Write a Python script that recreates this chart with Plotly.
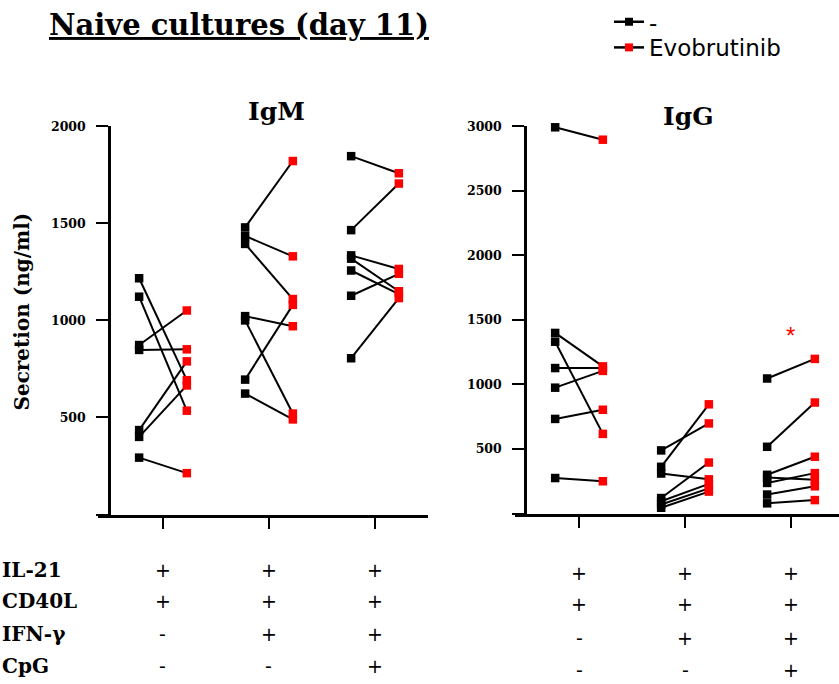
import plotly.graph_objects as go

# ---------------- data ----------------
groups = [0, 1, 2]  # culture conditions (columns)

igm_ctrl = [
    [1217, 1122, 873, 848, 435, 400, 293],
    [1479, 1435, 1394, 1022, 1000, 695, 623],
    [1846, 1465, 1335, 1318, 1257, 1127, 805],
]
igm_evo = [
    [692, 535, 1051, 851, 789, 665, 213],
    [1821, 1330, 1110, 970, 520, 1080, 490],
    [1758, 1705, 1265, 1150, 1135, 1240, 1115],
]
igg_ctrl = [
    [2992, 1399, 1331, 1127, 975, 733, 275],
    [489, 362, 310, 120, 95, 70, 45],
    [1046, 517, 300, 280, 237, 147, 79],
]
igg_evo = [
    [2896, 1140, 617, 1127, 1105, 804, 250],
    [698, 846, 265, 395, 230, 195, 170],
    [1198, 860, 440, 262, 313, 211, 104],
]

igm_ticks = [0, 500, 1000, 1500, 2000]
igg_ticks = [0, 500, 1000, 1500, 2000, 2500, 3000]

row_labels = ["IL-21", "CD40L", "IFN-γ", "CpG"]
row_signs = [
    ["+", "+", "+"],
    ["+", "+", "+"],
    ["-", "+", "+"],
    ["-", "-", "+"],
]
sig_group = 2
sig_value = 1380

series_names = ["-", "Evobrutinib"]
colors = ["#000000", "#ff0000"]

# ---------------- layout helpers ----------------
W, H = 839, 684
OFF = 0.225
SERIF = "DejaVu Serif"


def px(x):
    return x / W


def py(y):
    return 1 - y / H


fig = go.Figure()


def add_panel(ctrl, evo, xa, ya):
    lx, ly = [], []
    for g, (cs, es) in enumerate(zip(ctrl, evo)):
        for c, e in zip(cs, es):
            lx += [g - OFF, g + OFF, None]
            ly += [c, e, None]
    fig.add_trace(go.Scatter(x=lx, y=ly, mode="lines", xaxis=xa, yaxis=ya,
                             line=dict(color="black", width=2),
                             showlegend=False, hoverinfo="skip", cliponaxis=False))
    for k, (vals, off) in enumerate([(ctrl, -OFF), (evo, OFF)]):
        xs, ys = [], []
        for g, vs in enumerate(vals):
            xs += [g + off] * len(vs)
            ys += vs
        fig.add_trace(go.Scatter(x=xs, y=ys, mode="markers", xaxis=xa, yaxis=ya,
                                 marker=dict(symbol="square", size=8.5, color=colors[k]),
                                 showlegend=False, cliponaxis=False))


add_panel(igm_ctrl, igm_evo, "x", "y")
add_panel(igg_ctrl, igg_evo, "x2", "y2")

for i, (name, col) in enumerate(zip(series_names, colors)):
    fig.add_trace(go.Scatter(x=[None], y=[None], mode="lines+markers", name=name,
                             legend="legend" if i == 0 else "legend2",
                             line=dict(color="black", width=2.5),
                             marker=dict(symbol="square", size=8, color=col)))

axis_common = dict(showline=True, linecolor="black", linewidth=2.5, showgrid=False,
                   zeroline=False, ticks="outside", ticklen=12, tickwidth=2,
                   tickcolor="black")
tickfont = dict(family=SERIF, size=12.5, color="black", weight="bold")
legfont = dict(family="DejaVu Sans", size=23, color="black")

fig.update_layout(
    width=W, height=H, margin=dict(l=0, r=0, t=0, b=0),
    paper_bgcolor="white", plot_bgcolor="white",
    xaxis=dict(domain=[px(98), px(428)], range=[-0.613, 2.5], anchor="y",
               tickvals=groups, showticklabels=False, **axis_common),
    yaxis=dict(domain=[py(512), py(118)], range=[0, 2000],
               anchor="free", position=px(109), tickvals=igm_ticks,
               ticktext=[""] + [str(t) for t in igm_ticks[1:]],
               tickfont=tickfont, ticklabelstandoff=8, **axis_common),
    xaxis2=dict(domain=[px(515), 1.0], range=[-0.604, 2.453], anchor="y2",
                tickvals=groups, showticklabels=False, **axis_common),
    yaxis2=dict(domain=[py(511), py(118)], range=[0, 3000],
                anchor="free", position=px(525), tickvals=igg_ticks,
                ticktext=[""] + [str(t) for t in igg_ticks[1:]],
                tickfont=tickfont, ticklabelstandoff=8, **axis_common),
    legend=dict(x=px(609), y=py(12), xanchor="left", yanchor="middle",
                font=legfont, bgcolor="rgba(0,0,0,0)", itemwidth=30),
    legend2=dict(x=px(609), y=py(38), xanchor="left", yanchor="middle",
                 font=legfont, bgcolor="rgba(0,0,0,0)", itemwidth=30),
    showlegend=True,
)

ann = []
ann.append(dict(text="<u>Naive cultures (day 11)</u>", x=px(47), y=py(15), xref="paper",
                yref="paper", xanchor="left", yanchor="middle", showarrow=False,
                font=dict(family=SERIF, size=29, color="black", weight="bold")))
ann.append(dict(text="IgM", x=px(276), y=py(103), xref="paper", yref="paper",
                xanchor="center", yanchor="middle", showarrow=False,
                font=dict(family=SERIF, size=25, color="black", weight="bold")))
ann.append(dict(text="IgG", x=px(688), y=py(108), xref="paper", yref="paper",
                xanchor="center", yanchor="middle", showarrow=False,
                font=dict(family=SERIF, size=25, color="black", weight="bold")))
ann.append(dict(text="Secretion (ng/ml)", x=px(22), y=py(306), xref="paper", yref="paper",
                xanchor="center", yanchor="middle", textangle=-90, showarrow=False,
                font=dict(family=SERIF, size=20, color="black", weight="bold")))
ann.append(dict(text="*", x=sig_group, y=sig_value, xref="x2", yref="y2", showarrow=False,
                xanchor="center", yanchor="middle",
                font=dict(family="Liberation Sans", size=24, color="#ff0000")))
row_y_left = [568, 600, 633, 666]
row_y_right = [571, 603, 637, 670]
for r, lab in enumerate(row_labels):
    ann.append(dict(text=lab, x=0, y=py(row_y_left[r]), xref="paper", yref="paper",
                    xanchor="left", yanchor="middle", showarrow=False,
                    font=dict(family=SERIF, size=20, color="black", weight="bold")))
    for g in groups:
        for xr, ry in (("x", row_y_left[r]), ("x2", row_y_right[r])):
            ann.append(dict(text=row_signs[r][g], x=g, y=py(ry), xref=xr, yref="paper",
                            xanchor="center", yanchor="middle", showarrow=False,
                            font=dict(family="DejaVu Sans", size=19, color="black")))
fig.update_layout(annotations=ann)

fig.write_html("out.html")
